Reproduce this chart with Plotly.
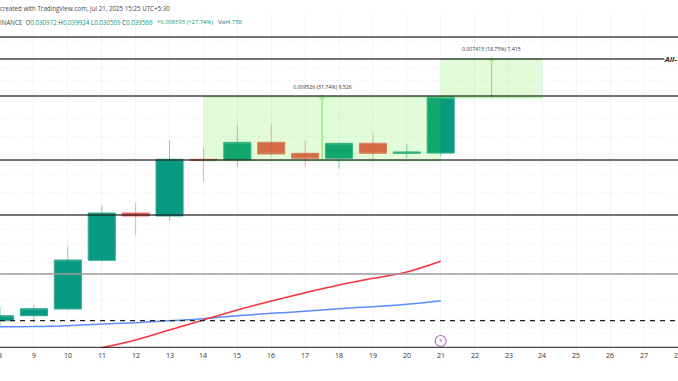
import math
import plotly.graph_objects as go

days = [8, 9, 10, 11, 12, 13, 14, 15, 16, 17, 18, 19, 20, 21]
opens = [0.014889, 0.015215, 0.015668, 0.019383, 0.023835, 0.023522, 0.030134, 0.030042, 0.032460, 0.030937, 0.030268, 0.032318, 0.030937, 0.030972]
highs = [0.015803, 0.015941, 0.020567, 0.024681, 0.024931, 0.032789, 0.031661, 0.035008, 0.035162, 0.032690, 0.032400, 0.033762, 0.032218, 0.039924]
lows = [0.014600, 0.014757, 0.015598, 0.019241, 0.021647, 0.023043, 0.027324, 0.029140, 0.030482, 0.029101, 0.028923, 0.029821, 0.030268, 0.030509]
closes = [0.015215, 0.015688, 0.019408, 0.023835, 0.023522, 0.030134, 0.029979, 0.032460, 0.030842, 0.030268, 0.032318, 0.030937, 0.031111, 0.039566]

red_days = [11, 12, 13, 14, 15, 16, 17, 18, 19, 20, 21]
red_line = [0.013228, 0.013681, 0.014291, 0.014932, 0.015598, 0.016221, 0.016825, 0.017398, 0.017917, 0.018413, 0.019296]
blue_line = [0.014500, 0.014512, 0.014565, 0.014672, 0.014757, 0.014884, 0.015016, 0.015215, 0.015375, 0.015509, 0.015688, 0.015826, 0.015993, 0.016245]

solid_levels = [0.051428, 0.039740, 0.030042, 0.023625, 0.013250]
ath_level = 0.046715
gray_level = 0.018255
dashed_level = 0.014889
grid_levels = [0.057117, 0.050534, 0.044911, 0.042617, 0.036096, 0.033366, 0.030977, 0.028262, 0.026122,
               0.022224, 0.020811, 0.019241, 0.017939, 0.016293, 0.015063, 0.014105, 0.012428]
tick_days = list(range(8, 29))

box1 = dict(x0=14, x1=21, low=0.029950, high=0.039566, arrow_x=17.5, text="0.009526 (31.74%) 9,526")
box2 = dict(x0=21, x1=24, low=0.039420, high=0.046715, arrow_x=22.5, text="0.007415 (18.75%) 7,415")
event_day, event_price = 21, 0.013622

TEAL, RED = "#089981", "#ef5350"
X_RANGE = [7.998, 28.0]
Y_RANGE = [math.log10(0.012428), math.log10(0.057117)]

fig = go.Figure()
for color, keep in (("rgba(8,153,129,0.45)", lambda o, c: c >= o), ("rgba(242,54,69,0.4)", lambda o, c: c < o)):
    xs, ys = [], []
    for d, o, h, l, c in zip(days, opens, highs, lows, closes):
        if keep(o, c):
            xs += [d, d, None]
            ys += [l, h, None]
    fig.add_trace(go.Scatter(x=xs, y=ys, mode="lines", line=dict(color=color, width=1), hoverinfo="skip"))

fig.add_trace(go.Candlestick(
    x=days, open=opens, close=closes,
    high=[max(o, c) for o, c in zip(opens, closes)],
    low=[min(o, c) for o, c in zip(opens, closes)],
    increasing=dict(line=dict(color="#37ab96", width=1), fillcolor=TEAL),
    decreasing=dict(line=dict(color="#f0706b", width=1), fillcolor=RED),
    whiskerwidth=0,
))
fig.add_trace(go.Scatter(x=days, y=blue_line, mode="lines", line=dict(color="#5b8cff", width=1.5, shape="spline"), hoverinfo="skip"))
fig.add_trace(go.Scatter(x=red_days, y=red_line, mode="lines", line=dict(color="#f7323c", width=1.5, shape="spline"), hoverinfo="skip"))
fig.add_trace(go.Scatter(x=[event_day], y=[event_price], mode="markers+text", text=["⚡"],
                         textposition="middle center", textfont=dict(size=7, color="#ab47bc", family="DejaVu Sans"),
                         marker=dict(size=11, color="white", line=dict(color="#ba68c8", width=1.2)), hoverinfo="skip"))

shapes = []
for b in (box1, box2):
    shapes.append(dict(type="rect", xref="x", yref="y", x0=b["x0"], x1=b["x1"], y0=b["low"], y1=b["high"],
                       fillcolor="rgba(74,236,17,0.16)", line=dict(width=0), layer="above"))
    for edge in (b["low"], b["high"]):
        shapes.append(dict(type="line", xref="x", yref="y", x0=b["x0"], x1=b["x1"], y0=edge, y1=edge,
                           line=dict(color="rgba(110,232,90,0.65)", width=1), layer="above"))
for level in solid_levels:
    shapes.append(dict(type="line", xref="x", yref="y", x0=X_RANGE[0], x1=X_RANGE[1], y0=level, y1=level,
                       line=dict(color="rgba(25,25,25,0.8)", width=1.3), layer="above"))
shapes.append(dict(type="line", xref="x", yref="y", x0=X_RANGE[0], x1=27.6, y0=ath_level, y1=ath_level,
                   line=dict(color="rgba(25,25,25,0.8)", width=1.3), layer="above"))
shapes.append(dict(type="line", xref="x", yref="y", x0=X_RANGE[0], x1=X_RANGE[1], y0=gray_level, y1=gray_level,
                   line=dict(color="#9a9a9a", width=1.3), layer="above"))
shapes.append(dict(type="line", xref="x", yref="y", x0=X_RANGE[0], x1=X_RANGE[1], y0=dashed_level, y1=dashed_level,
                   line=dict(color="#222222", width=1.1, dash="5px,5px"), layer="above"))
fig.update_layout(shapes=shapes)

for b in (box1, box2):
    fig.add_trace(go.Scatter(x=[b["arrow_x"], b["arrow_x"]], y=[b["low"], b["high"]], mode="lines+markers",
                             line=dict(color="#93ec82", width=1.3),
                             marker=dict(symbol=["circle", "triangle-up-open"], size=[0, 5], color="#93ec82", line=dict(color="#93ec82", width=1)),
                             hoverinfo="skip"))
    fig.add_annotation(x=b["arrow_x"], y=math.log10(b["high"]), yshift=10, text=b["text"], showarrow=False,
                       font=dict(size=5.2, color="#333333", family="Open Sans"))

for d in tick_days:
    fig.add_annotation(x=d, xref="x", yref="paper", y=0, yshift=7, yanchor="middle", text=str(d), showarrow=False,
                       font=dict(size=7, color="#333333", family="Open Sans"))

fig.add_annotation(xref="paper", x=1, yref="y", y=math.log10(ath_level), text="<b><i>All-</i></b>", showarrow=False,
                   xanchor="right", xshift=1, font=dict(size=7.5, color="#222222", family="Open Sans"))
fig.add_annotation(xref="paper", x=0, xanchor="left", yref="paper", y=1, yshift=5, yanchor="middle",
                   text="created with TradingView.com, Jul 21, 2025 15:25 UTC+5:30",
                   showarrow=False, xshift=-2, font=dict(size=6.2, color="#444444", family="Open Sans"))
g = '<span style="color:#089981">%s</span>'
header = ("INANCE  O" + g % "0.030972" + " H" + g % "0.039924" + " L" + g % "0.030509" + " C" + g % "0.039566")
fig.add_annotation(xref="paper", x=0, xanchor="left", yref="paper", y=1, yshift=-9, yanchor="middle", text=header,
                   showarrow=False, xshift=-2, font=dict(size=6.2, color="#444444", family="Open Sans"))
fig.add_annotation(xref="paper", x=155 / 678, xanchor="left", yref="paper", y=1, yshift=-9, yanchor="middle",
                   text=g % "+0.008593 (+27.74%)", showarrow=False, font=dict(size=5.8, color="#444444", family="Open Sans"))
fig.add_annotation(xref="paper", x=216 / 678, xanchor="left", yref="paper", y=1, yshift=-9, yanchor="middle",
                   text="Vol" + g % "4.758", showarrow=False, font=dict(size=6.0, color="#444444", family="Open Sans"))

fig.update_layout(
    width=678, height=381, margin=dict(l=0, r=0, t=13, b=19), showlegend=False,
    paper_bgcolor="white", plot_bgcolor="white", boxgap=0.2, boxgroupgap=0, hovermode=False,
    xaxis=dict(range=X_RANGE, tickvals=tick_days, ticks="", showticklabels=False, showgrid=True,
               gridcolor="#f3f4f6", gridwidth=1, zeroline=False, rangeslider=dict(visible=False)),
    yaxis=dict(type="log", range=Y_RANGE, tickvals=grid_levels, showticklabels=False, ticks="", showgrid=True,
               gridcolor="#f3f4f6", griddash="dot", gridwidth=1, zeroline=False),
)
fig.write_html("out.html", config=dict(displayModeBar=False),
               post_script="document.body.style.margin='0';document.documentElement.style.overflow='hidden';")
